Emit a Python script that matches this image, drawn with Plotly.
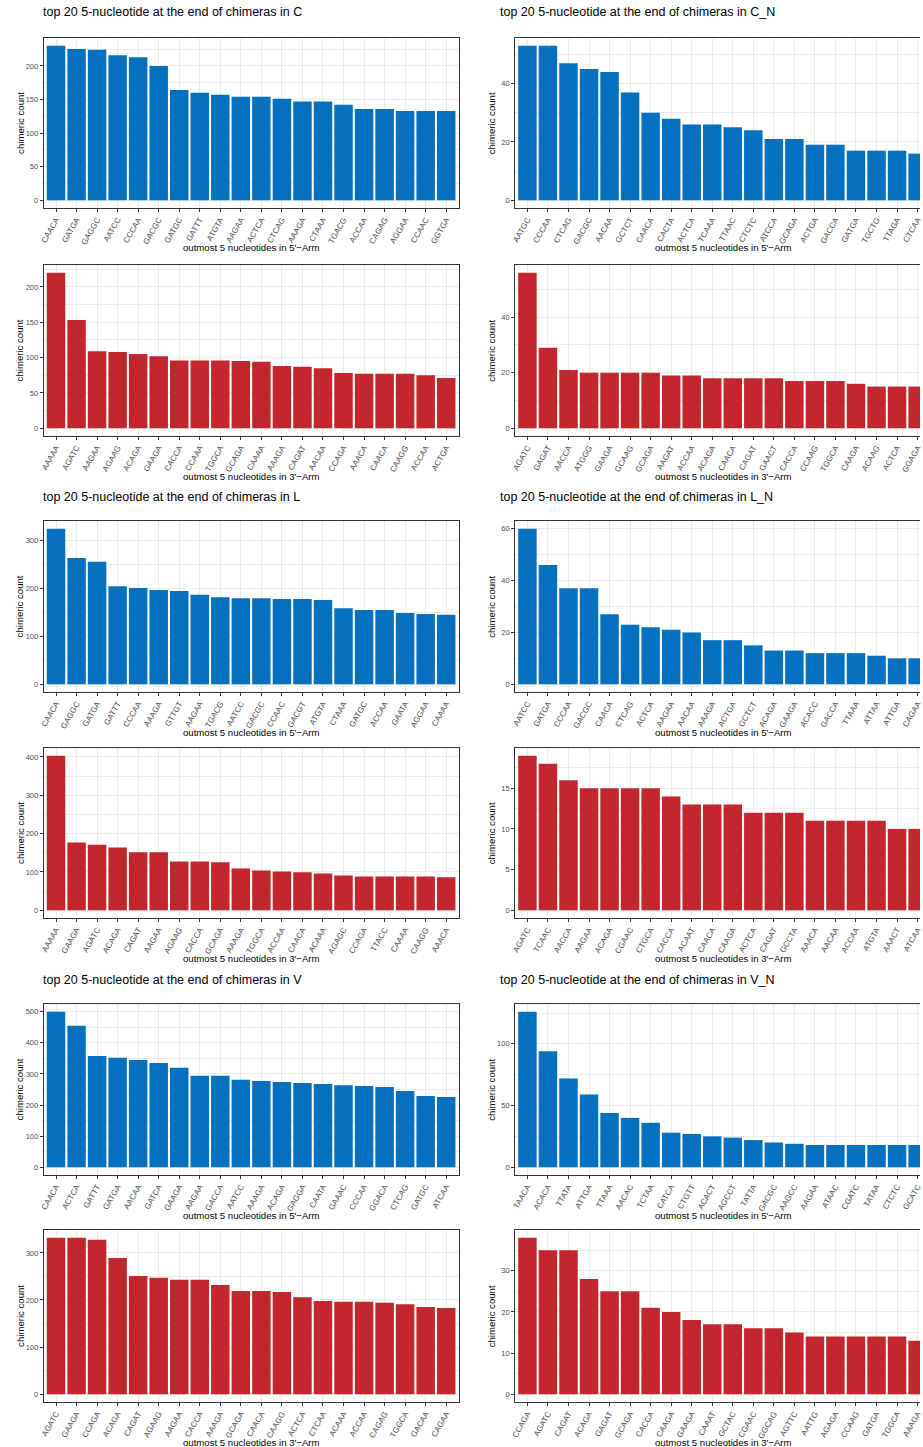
import plotly.graph_objects as go

# ---- data: top 20 five-nucleotide ends per library and arm ----
c5_seq = ["CAACA", "GATGA", "GAGGC", "AATCC", "CCCAA", "GACGC", "GATGC", "GATTT", "ATGTA", "AAGAA",
          "ACTCA", "CTCAG", "AAAGA", "CTAAA", "TGACG", "ACCAA", "CAGAG", "AGGAA", "CCAAC", "GGTGA"]
c5_cnt = [230, 225, 224, 216, 213, 200, 164, 160, 157, 154, 154, 151, 147, 147, 142, 136, 136, 133, 133, 133]

cn5_seq = ["AATGC", "CCCAA", "CTCAG", "GACGC", "AACAA", "GCTCT", "CAACA", "CACTA", "ACTCA", "TCAAA",
           "TTAAC", "CTCTC", "ATCCA", "GCAGA", "ACTGA", "GACCA", "GATGA", "TGCTG", "TTAGA", "CTCAA"]
cn5_cnt = [53, 53, 47, 45, 44, 37, 30, 28, 26, 26, 25, 24, 21, 21, 19, 19, 17, 17, 17, 16]

c3_seq = ["AAAAA", "AGATC", "AAGAA", "AGAAG", "ACAGA", "GAAGA", "CACCA", "CCAAA", "TGGCA", "GCAGA",
          "CAAAA", "AAAGA", "CAGAT", "AACAA", "CCAGA", "AAACA", "CAACA", "CAAGG", "ACCAA", "ACTGA"]
c3_cnt = [220, 153, 109, 108, 105, 102, 96, 96, 96, 95, 94, 88, 87, 85, 78, 77, 77, 77, 75, 71]

cn3_seq = ["AGATC", "GAGAT", "AACCA", "ATGGG", "GAAGA", "GCAAG", "GCAGA", "AAGAT", "ACCAA", "ACAGA",
           "CAACA", "CAGAT", "GAACT", "CACCA", "CCAAG", "TGGCA", "CAAGA", "ACAAG", "ACTCA", "GGAGA"]
cn3_cnt = [56, 29, 21, 20, 20, 20, 20, 19, 19, 18, 18, 18, 18, 17, 17, 17, 16, 15, 15, 15]

l5_seq = ["CAACA", "GAGGC", "GATGA", "GATTT", "CCCAA", "AAAGA", "GTTGT", "AAGAA", "TGACG", "AATCC",
          "GACGC", "CCAAC", "GACGT", "ATGTA", "CTAAA", "GATGC", "ACCAA", "GAATA", "AGGAA", "CAAAA"]
l5_cnt = [325, 264, 256, 205, 201, 197, 195, 187, 182, 180, 180, 178, 178, 176, 159, 155, 155, 149, 147, 145]

ln5_seq = ["AATCC", "GATGA", "CCCAA", "GACGC", "CAACA", "CTCAG", "ACTCA", "AAGAA", "AACAA", "AAAGA",
           "ACTGA", "GCTCT", "ACAGA", "GAAGA", "ACACC", "GACCA", "TTAAA", "ATTAA", "ATTGA", "CAGAA"]
ln5_cnt = [60, 46, 37, 37, 27, 23, 22, 21, 20, 17, 17, 15, 13, 13, 12, 12, 12, 11, 10, 10]

l3_seq = ["AAAAA", "GAAGA", "AGATC", "ACAGA", "CAGAT", "AAGAA", "AGAAG", "CACCA", "GCAGA", "AAAGA",
          "TGGCA", "ACCAA", "CAACA", "ACAAA", "AGAGC", "CCAGA", "TTACC", "CAAAA", "CAAGG", "AAACA"]
l3_cnt = [403, 177, 171, 164, 151, 151, 127, 127, 125, 109, 104, 101, 99, 96, 91, 88, 88, 88, 88, 86]

ln3_seq = ["AGATC", "TCAAC", "AACCA", "AAGAA", "ACAGA", "CGAAC", "CTGCA", "CACCA", "ACAAT", "CAACA",
           "CAAGA", "ACTCA", "CAGAT", "GCCTA", "AAACA", "AACAA", "ACCAA", "ATGTA", "AAACT", "ATCAA"]
ln3_cnt = [19, 18, 16, 15, 15, 15, 15, 14, 13, 13, 13, 12, 12, 12, 11, 11, 11, 11, 10, 10]

v5_seq = ["CAACA", "ACTCA", "GATTT", "GATGA", "AACAA", "GATCA", "GAAGA", "AAGAA", "GACCA", "AATCC",
          "AAAGA", "ACAGA", "GAGGA", "CAATA", "GAAAC", "CCCAA", "GGACA", "CTCAG", "GATGC", "ATCAA"]
v5_cnt = [500, 455, 358, 352, 345, 335, 320, 294, 294, 281, 277, 274, 271, 268, 264, 261, 258, 245, 229, 226]

vn5_seq = ["TAACA", "ACACA", "TTATA", "ATTGA", "TTAAA", "AACAC", "TCTAA", "CATCA", "CTGTT", "ACACT",
           "AGCCT", "TATTA", "GACGC", "AAGCC", "AAGAA", "ATAAC", "CGATC", "TATAA", "CTCTC", "GCATC"]
vn5_cnt = [126, 94, 72, 59, 44, 40, 36, 28, 27, 25, 24, 22, 20, 19, 18, 18, 18, 18, 18, 18]

v3_seq = ["AGATC", "GAAGA", "CCAGA", "ACAGA", "CAGAT", "AGAAG", "AAGAA", "CACCA", "AAAGA", "GCAGA",
          "CAACA", "CAAGG", "ACTCA", "CTCAA", "ACAAA", "ACCAA", "CAGAG", "TGGCA", "GACAA", "CAGAA"]
v3_cnt = [332, 332, 328, 289, 251, 247, 243, 243, 232, 219, 219, 217, 206, 198, 196, 196, 194, 191, 185, 183]

vn3_seq = ["CCAGA", "AGATC", "CAGAT", "ACAGA", "GAGAT", "GCAGA", "CACCA", "CAAGA", "GAAGA", "CAAAT",
           "GCTAC", "CGAAC", "GGCAG", "AGTTC", "AATTG", "AGAGA", "CCAAG", "GATGA", "TGGCA", "AAAGA"]
vn3_cnt = [38, 35, 35, 28, 25, 25, 21, 20, 18, 17, 17, 16, 16, 15, 14, 14, 14, 14, 14, 13]

libraries = ["C", "C_N", "L", "L_N", "V", "V_N"]

BLUE = "#0571BE"
RED = "#C1272D"
GRID = "#EBEBEB"
BORDER = "#333333"
TICKTXT = "#4D4D4D"
FONT = "Liberation Sans, Arial, sans-serif"

W, H = 923, 1447

# panel pixel boxes: (left, right) columns and (top, bottom) rows
col_px = [(40, 458), (515, 923)]
row_px = [(38, 208), (265, 436), (521, 692), (748, 918), (1004, 1175), (1230, 1402)]
titles_y = [12, 497, 980]
title_x = [37, 498]
full_right = 933  # right-hand panels run past the page edge

panels = [
    # (row, col, seqs, counts, colour, dtick, arm)
    (0, 0, c5_seq, c5_cnt, BLUE, 50, "5"),
    (0, 1, cn5_seq, cn5_cnt, BLUE, 20, "5"),
    (1, 0, c3_seq, c3_cnt, RED, 50, "3"),
    (1, 1, cn3_seq, cn3_cnt, RED, 20, "3"),
    (2, 0, l5_seq, l5_cnt, BLUE, 100, "5"),
    (2, 1, ln5_seq, ln5_cnt, BLUE, 20, "5"),
    (3, 0, l3_seq, l3_cnt, RED, 100, "3"),
    (3, 1, ln3_seq, ln3_cnt, RED, 5, "3"),
    (4, 0, v5_seq, v5_cnt, BLUE, 100, "5"),
    (4, 1, vn5_seq, vn5_cnt, BLUE, 50, "5"),
    (5, 0, v3_seq, v3_cnt, RED, 100, "3"),
    (5, 1, vn3_seq, vn3_cnt, RED, 10, "3"),
]

fig = go.Figure()
annotations = []
layout = {}
units_per_px = 20.2 / (458 - 40)

for i, (r, c, seqs, cnts, colour, dtick, arm) in enumerate(panels):
    n = i + 1
    xa = "x" if n == 1 else f"x{n}"
    ya = "y" if n == 1 else f"y{n}"
    xkey = "xaxis" if n == 1 else f"xaxis{n}"
    ykey = "yaxis" if n == 1 else f"yaxis{n}"

    fig.add_trace(go.Bar(
        x=list(range(len(seqs))), y=cnts, xaxis=xa, yaxis=ya,
        marker=dict(color=colour, line=dict(width=0)), width=0.9,
        showlegend=False, hoverinfo="y",
    ))

    x0, x1 = col_px[c]
    t, b = row_px[r]
    full_w = (full_right if c == 1 else x1) - x0
    xmax = -0.6 + (x1 - x0) * units_per_px

    ymax = max(cnts)
    yr = [-0.05 * ymax, 1.05 * ymax]

    layout[xkey] = dict(
        domain=[x0 / W, x1 / W], anchor=ya,
        range=[-0.6, xmax],
        tickmode="array", tickvals=list(range(len(seqs))), ticktext=seqs,
        tickangle=-60, tickfont=dict(size=8, color=TICKTXT, family=FONT),
        ticklabeloverflow="allow",
        ticks="outside", ticklen=3, tickcolor=BORDER, tickwidth=0.6,
        showgrid=True, gridcolor=GRID, gridwidth=1,
        showline=True, linecolor=BORDER, linewidth=1, mirror=True,
        zeroline=False, fixedrange=True,
    )
    layout[ykey] = dict(
        domain=[1 - b / H, 1 - t / H], anchor=xa,
        range=yr, dtick=dtick, tick0=0,
        tickfont=dict(size=7.5, color=TICKTXT, family=FONT),
        ticks="outside", ticklen=3, tickcolor=BORDER, tickwidth=0.6,
        showgrid=True, gridcolor=GRID, gridwidth=1,
        minor=dict(dtick=dtick / 2, tick0=0, showgrid=True, gridcolor=GRID, gridwidth=0.5, ticks=""),
        showline=True, linecolor=BORDER, linewidth=1, mirror=(c == 0),
        zeroline=False, fixedrange=True,
    )

    # axis titles
    annotations.append(dict(
        text="chimeric count", xref="paper", yref="paper",
        x=(x0 - 24) / W, y=1 - (t + b) / 2 / H, textangle=-90,
        showarrow=False, font=dict(size=9.6, color="black", family=FONT),
        xanchor="center", yanchor="middle",
    ))
    annotations.append(dict(
        text=f"outmost 5 nucleotides in {arm}'\u2212Arm", xref="paper", yref="paper",
        x=(x0 + full_w / 2) / W, y=1 - (b + 40) / H,
        showarrow=False, font=dict(size=9.6, color="black", family=FONT),
        xanchor="center", yanchor="middle",
    ))

# row titles above each 5'-arm pair
for k, ty in enumerate(titles_y):
    for c in range(2):
        lib = libraries[2 * k + c]
        annotations.append(dict(
            text=f"top 20 5-nucleotide at the end of chimeras in {lib}",
            xref="paper", yref="paper",
            x=title_x[c] / W, y=1 - ty / H,
            showarrow=False, font=dict(size=12.5, color="black", family=FONT),
            xanchor="left", yanchor="middle",
        ))

fig.update_layout(
    width=W, height=H,
    margin=dict(l=0, r=0, t=0, b=0),
    paper_bgcolor="white", plot_bgcolor="white",
    bargap=0.1,
    annotations=annotations,
    **layout,
)

fig.write_html("out.html")
